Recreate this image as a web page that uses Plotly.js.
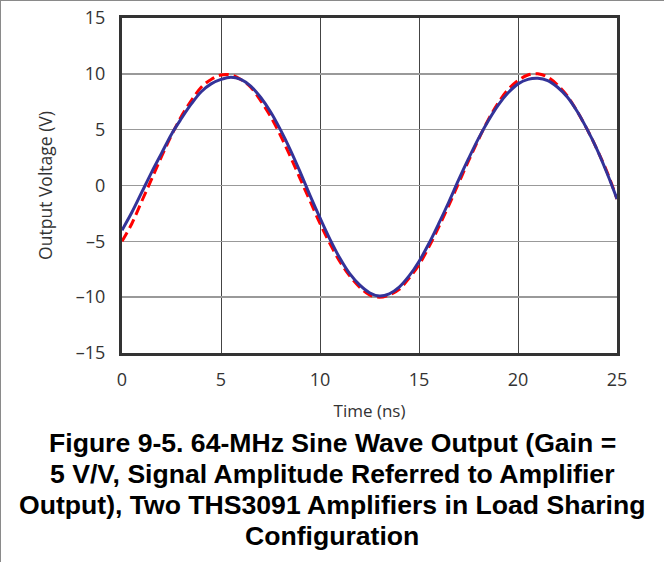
<!DOCTYPE html>
<html>
<head>
<meta charset="utf-8">
<script src="https://cdn.plot.ly/plotly-3.0.1.min.js"></script>
<style>
html,body{margin:0;padding:0;background:#fff;}
#chart{width:664px;height:562px;position:absolute;left:0;top:0;}
#frame{position:absolute;left:0;top:0;width:663px;height:561px;border-top:1px solid #8a8a8a;border-left:1px solid #8a8a8a;pointer-events:none;}
</style>
</head>
<body>
<div id="chart"></div>
<div id="frame"></div>
<script>
const timeNs = [0,0.5,1,1.5,2,2.5,3,3.5,4,4.5,5,5.5,6,6.5,7,7.5,8,8.5,9,9.5,10,10.5,11,11.5,12,12.5,13,13.5,14,14.5,15,15.5,16,16.5,17,17.5,18,18.5,19,19.5,20,20.5,21,21.5,22,22.5,23,23.5,24,24.5,25];
const idealV = [-5.0,-3.4,-1.4,0.6,2.6,4.5,6.2,7.6,8.8,9.5,9.9,9.9,9.5,8.8,7.6,6.2,4.5,2.6,0.6,-1.4,-3.4,-5.2,-6.8,-8.1,-9.1,-9.8,-10.0,-9.8,-9.3,-8.3,-7.1,-5.5,-3.7,-1.8,0.2,2.2,4.1,5.9,7.4,8.6,9.4,9.9,10.0,9.7,9.0,8.0,6.6,5.0,3.2,1.2,-1.2];
const measuredV = [-4.0,-2.4,-0.6,1.2,2.9,4.6,6.0,7.3,8.4,9.1,9.5,9.7,9.5,8.9,7.9,6.6,5.0,3.2,1.2,-0.9,-2.9,-4.8,-6.5,-7.9,-8.9,-9.6,-9.9,-9.7,-9.1,-8.1,-6.8,-5.2,-3.4,-1.5,0.5,2.4,4.2,5.8,7.2,8.3,9.1,9.5,9.6,9.4,8.8,7.9,6.6,5.0,3.2,1.1,-1.2];
const xTicks = [0,5,10,15,20,25];
const yTicks = [-15,-10,-5,0,5,10,15];
const xTitle = 'Time (ns)';
const yTitle = 'Output Voltage (V)';
const captionLines = [
  'Figure 9-5. 64-MHz Sine Wave Output (Gain =',
  '5 V/V, Signal Amplitude Referred to Amplifier',
  'Output), Two THS3091 Amplifiers in Load Sharing',
  'Configuration'
];

const traces = [
  {x: timeNs, y: idealV, type:'scatter', mode:'lines',
   line:{color:'#ff0000', width:3, dash:'10px,5px', shape:'spline'}, hoverinfo:'skip'},
  {x: timeNs, y: measuredV, type:'scatter', mode:'lines',
   line:{color:'#333399', width:3, shape:'spline'}, hoverinfo:'skip'}
];

const captionY = [443, 474, 505, 536];
const annotations = captionLines.map((t,i)=>({
  text: '<b>'+t+'</b>', xref:'paper', yref:'paper',
  x:(332-122)/(617-122), xanchor:'center',
  y: 1 - (captionY[i]-18)/(353-18), yanchor:'middle', showarrow:false,
  font:{family:'Liberation Sans, Arial, sans-serif', size:26.6, color:'#000'}
}));

const layout = {
  width:664, height:562,
  margin:{l:122, r:47, t:18, b:209},
  paper_bgcolor:'#fff', plot_bgcolor:'#fff',
  showlegend:false,
  font:{family:'Open Sans, Noto Sans, sans-serif', color:'#333', size:17},
  xaxis:{range:[0,25], tickvals:xTicks, ticktext:xTicks.map(String),
    showgrid:true, gridcolor:'#444', gridwidth:1, zeroline:false,
    showline:true, linecolor:'#333', linewidth:3, mirror:true, ticks:'',
    tickfont:{size:18, color:'#333'}, ticklabelstandoff:8,
    title:{text:xTitle, font:{size:17, color:'#333'}, standoff:16}},
  yaxis:{range:[-15,15], tickvals:yTicks, ticktext:yTicks.map(v=>v<0?'\u2013'+Math.abs(v):String(v)),
    showgrid:true, gridcolor:'#999', gridwidth:1.5, zeroline:false,
    showline:true, linecolor:'#333', linewidth:3, mirror:true, ticks:'',
    tickfont:{size:18, color:'#333'}, ticklabelstandoff:10,
    title:{text:yTitle, font:{size:17.5, color:'#333'}, standoff:19}},
  annotations: annotations
};
Plotly.newPlot('chart', traces, layout, {staticPlot:true, displayModeBar:false});
</script>
</body>
</html>
